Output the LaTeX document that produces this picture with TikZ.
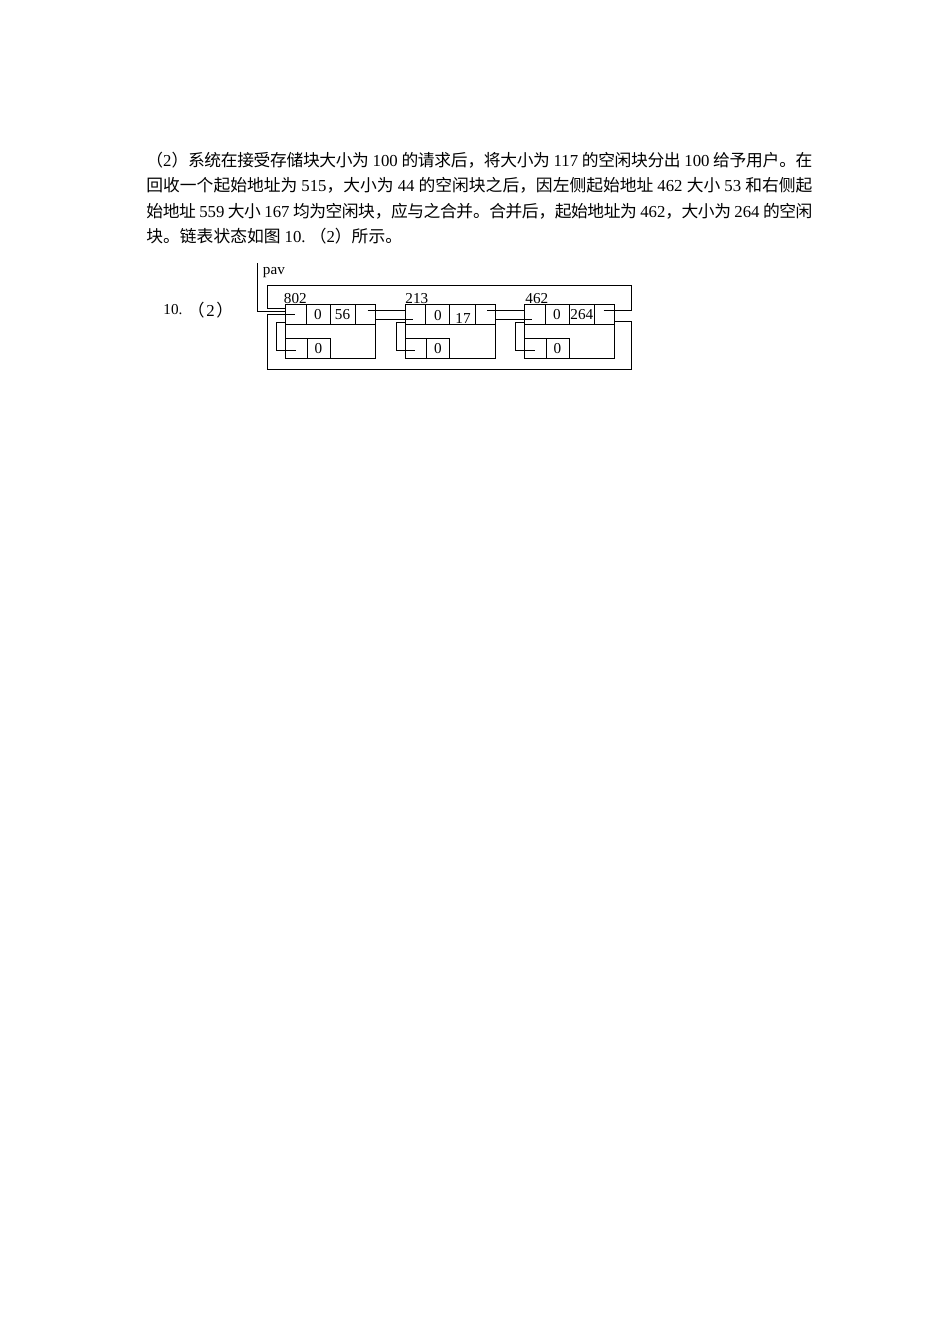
\documentclass[tikz,border=0pt]{standalone}
\usepackage{fontspec}
\setmainfont{Liberation Serif}
\newfontfamily\cjk{Noto Sans CJK SC}
\usetikzlibrary{calc}
\XeTeXlinebreaklocale "zh"
\XeTeXlinebreakskip=0pt plus 1pt minus 1pt
\newcommand\gap{\hspace{0.25em plus 1pt minus 1.5pt}}
\begin{document}
\begin{tikzpicture}[x=0.62663pt,y=-0.62663pt,line width=0.6pt,
  para/.style={anchor=west,inner sep=0pt,text width=417.3pt,align=justify,
    font=\fontsize{10.5pt}{12pt}\selectfont},
  plain/.style={anchor=west,inner sep=0pt,font=\fontsize{10.5pt}{12pt}\selectfont},
  lbl/.style={inner sep=0pt,font=\fontsize{9.5pt}{11pt}\selectfont}]
\useasboundingbox[fill=white] (0,0) rectangle (950,1344);

% paragraph
\node[para] (l1) at (146,160) {\tolerance=9999\parfillskip=0pt {\cjk （}2{\cjk ）系统在接受存储块大小为}\gap100\gap{\cjk 的请求后，将大小为}\gap117\gap{\cjk 的空闲块分出}\gap100\gap{\cjk 给予用户。在}};
\node[para] (l2) at (146,185.5) {\tolerance=9999\parfillskip=0pt {\cjk 回收一个起始地址为}\gap515{\cjk ，大小为}\gap44\gap{\cjk 的空闲块之后，因左侧起始地址}\gap462\gap{\cjk 大小}\gap53\gap{\cjk 和右侧起}};
\node[para] (l3) at (146,211) {\tolerance=9999\parfillskip=0pt {\cjk 始地址}\gap559\gap{\cjk 大小}\gap167\gap{\cjk 均为空闲块，应与之合并。合并后，起始地址为}\gap462{\cjk ，大小为}\gap264\gap{\cjk 的空闲}};
\node[plain] (l4) at (146,236) {{\cjk 块。链表状态如图}\gap10.\ {\cjk （}2{\cjk ）所示。}};

% left label
\node[plain,font=\fontsize{9.5pt}{11pt}\selectfont] (n10) at (163,310) {10.};
\node[inner sep=0pt,font=\fontsize{10.5pt}{12pt}\selectfont] (n2) at (210.5,310) {{\cjk （}\kern1pt 2\kern1pt{\cjk ）}};

% blocks
\coordinate (b1) at (285.5,304.5);
\coordinate (b2) at (405,304.5);
\coordinate (b3) at (524.5,304.5);
\foreach \b in {b1,b2,b3}{
  \draw (\b) rectangle ++(90,54);
  \draw ($(\b)+(0,19.5)$) -- ++(90,0);
  \draw ($(\b)+(20.5,0)$) -- ++(0,19.5);
  \draw ($(\b)+(44.5,0)$) -- ++(0,19.5);
  \draw ($(\b)+(70,0)$) -- ++(0,19.5);
  \draw ($(\b)+(0,34)$) -| ($(\b)+(44.5,54)$);
  \draw ($(\b)+(21.5,34)$) -- ++(0,20);
  \draw ($(\b)+(0,17.5)$) -- ++(-9,0) |- ($(\b)+(10,45.5)$);
  \node[lbl] at ($(\b)+(33,44.5)$) {0};
}

% block labels
\node[lbl,anchor=base west] (a1) at (283.5,303) {802};
\node[lbl,anchor=base west] (a2) at (405,303) {213};
\node[lbl,anchor=base west] (a3) at (525,303) {462};

% cell values
\node[lbl] (c11) at ($(b1)+(32.5,10.5)$) {0};
\node[lbl] (c12) at ($(b1)+(57,10.5)$) {56};
\node[lbl] (c21) at ($(b2)+(33,11)$) {0};
\node[lbl] (c22) at ($(b2)+(58,13.5)$) {17};
\node[lbl] (c31) at ($(b3)+(32.5,10.5)$) {0};
\node[lbl] (c32) at ($(b3)+(57.3,10.5)$) {264};

% links between blocks
\draw ($(b1)+(82,6)$) -- ($(b2)+(0,6)$);
\draw ($(b2)+(82,6)$) -- ($(b3)+(0,6)$);
\draw ($(b1)+(90,15)$) -- ($(b2)+(7.5,15)$);
\draw ($(b2)+(90,15)$) -- ($(b3)+(7.5,15)$);

% loops
\coordinate (tr) at (631,285);
\coordinate (tl) at (267,285);
\coordinate (br) at (631,369);
\coordinate (bl) at (267,369);
\draw ($(b3)+(79,6)$) -| (tr) -- (tl) |- ($(b1)+(0,3.5)$);
\draw ($(b3)+(90,16.5)$) -| (br) -- (bl) |- ($(b1)+(9.5,10)$);

% pav
\coordinate (pv) at (257.3,263);
\draw (pv) |- ($(b1)+(0,7)$);
\node[lbl,anchor=base west] (pavl) at (262.5,274.5) {pav};
\end{tikzpicture}
\end{document}
